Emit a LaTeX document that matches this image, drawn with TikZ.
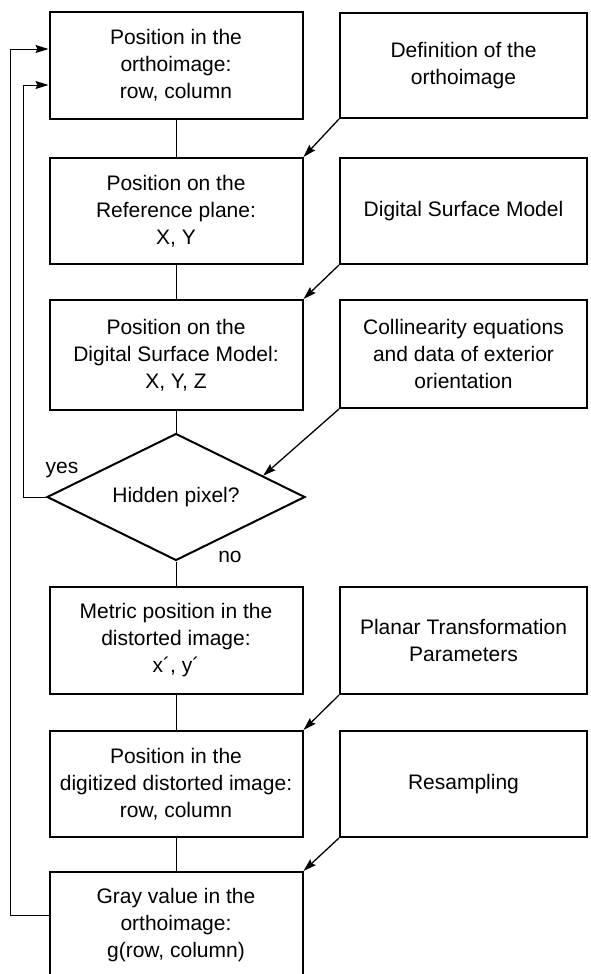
\documentclass[tikz,border=0pt]{standalone}
\usepackage{fontspec}
\setmainfont{Liberation Sans}
\usetikzlibrary{arrows.meta, shapes.geometric, calc}

\begin{document}
\begin{tikzpicture}[x=1pt, y=-1pt,
    box/.style={draw, line width=2pt, align=center, inner sep=2pt,
        minimum width=253pt, minimum height=106pt, font=\fontsize{21}{27}\selectfont},
    src/.style={box, minimum width=247pt},
    test/.style={draw, line width=2pt, shape=diamond, aspect=2.03, inner sep=0pt,
        minimum width=258pt, minimum height=127pt, font=\fontsize{21}{27}\selectfont},
    link/.style={line width=0.9pt},
    feed/.style={line width=1.3pt, arrows={-Stealth[length=13pt, width=8pt, inset=2pt]}},
    back/.style={line width=0.9pt, arrows={-Stealth[length=13pt, width=8pt, inset=2pt]}}]
    \useasboundingbox (0,0) rectangle (590,974);

    % Main chain
    \node[box] (b1) at ({176}, {65.5}) {Position in the\\orthoimage:\\row, column};
    \node[box] (b2) at ({176}, {211}) {Position on the\\Reference plane:\\X, Y};
    \node[box, minimum height=110pt] (b3) at ({176}, {355}) {Position on the\\Digital Surface Model:\\X, Y, Z};
    \node[test] (dia) at ({176}, {497}) {Hidden pixel?};
    \node[box, minimum height=107pt] (b4) at ({176}, {640.5}) {Metric position in the\\distorted image:\\x´, y´};
    \node[box] (b5) at ({176}, {784}) {Position in the\\digitized distorted image:\\row, column};
    \node[box] (b6) at ({176}, {925}) {Gray value in the\\orthoimage:\\g(row, column)};

    % Inputs
    \node[src, minimum height=105pt] (d1) at ({463.5}, {65.5}) {Definition of the\\orthoimage};
    \node[src] (d2) at ({463.5}, {211}) {Digital Surface Model};
    \node[src, minimum height=108pt] (d3) at ({463.5}, {354}) {Collinearity equations\\and data of exterior\\orientation};
    \node[src, minimum height=107pt] (d4) at ({463.5}, {640.5}) {Planar Transformation\\Parameters};
    \node[src] (d5) at ({463.5}, {784}) {Resampling};

    \node[font=\fontsize{21}{27}\selectfont] (lyes) at ({62}, {470}) {yes};
    \node[font=\fontsize{21}{27}\selectfont] (lno) at ({230}, {557}) {no};

    \draw[link] (b1) -- (b2);
    \draw[link] (b2) -- (b3);
    \draw[link] (b3) -- (dia);
    \draw[link] (dia) -- (b4);
    \draw[link] (b4) -- (b5);
    \draw[link] (b5) -- (b6);

    \draw[feed] (d1.south west) -- (b2.north east);
    \draw[feed] (d2.south west) -- (b3.north east);
    \draw[feed] (d3.south west) -- ($(dia.north)!0.67!(dia.east)$);
    \draw[feed] (d4.south west) -- (b5.north east);
    \draw[feed] (d5.south west) -- (b6.north east);

    % loops back to the first box
    \draw[back] ([yshift=10pt]b6.west) -- ++(-38.5,0) |- ([yshift=16.5pt]b1.west);
    \draw[back] (dia.west) -- ++(-23,0) |- ([yshift=-19.5pt]b1.west);
\end{tikzpicture}
\end{document}
